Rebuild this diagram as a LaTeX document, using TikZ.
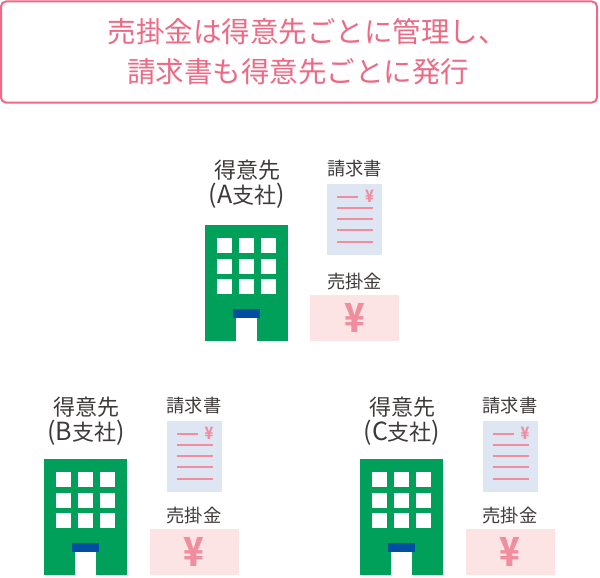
\documentclass[tikz,border=0pt]{standalone}
\usepackage{fontspec}
\setmainfont{Noto Sans CJK JP}
\definecolor{titlepink}{HTML}{EC6A85}
\definecolor{linepink}{HTML}{F08E9F}
\definecolor{txtgray}{HTML}{3E3A39}
\definecolor{bldgreen}{HTML}{00A05A}
\definecolor{doorblue}{HTML}{004EA2}
\definecolor{invblue}{HTML}{DFE6F3}
\definecolor{arpink}{HTML}{FBE4E3}
\newcommand{\subfont}{\fontsize{25}{25}\selectfont}
\tikzset{
  x=1pt,y=-1pt,
  titlebox/.style={draw=titlepink,line width=2pt,rounded corners=5pt,fill=white},
  titletext/.style={text=titlepink,font=\fontsize{28.5}{28.5}\selectfont,inner sep=0pt,anchor=center},
  bigtext/.style={text=txtgray,font=\fontsize{22}{22}\selectfont,inner sep=0pt,anchor=center},
  smalltext/.style={text=txtgray,font=\fontsize{18.3}{18.3}\selectfont,inner sep=0pt,anchor=center},
  yensmall/.style={text=linepink,font=\fontsize{17}{17}\selectfont\bfseries,inner sep=0pt,anchor=center,xscale=.85,transform shape},
  yenbig/.style={text=linepink,font=\fontsize{40}{40}\selectfont\bfseries,inner sep=0pt,anchor=center,xscale=.85,transform shape},
  rowline/.style={draw=linepink,line width=1.6pt},
}
% #1 dx, #2 dy, #3 suffix, #4 letter, #5 extra y of texts and invoice, #6 extra x of right column
\newcommand{\branch}[6]{%
\begin{scope}[shift={(#1,#2)}]
  \fill[bldgreen] (205,225) rectangle (288,341);
  \foreach \wx in {217,239,261}
    \foreach \wy in {238,259,279}
      \fill[white] (\wx,\wy) rectangle +(15,15);
  \fill[doorblue] (233,309) rectangle (260,318);
  \fill[white] (236,318) rectangle (257,341);
  \begin{scope}[shift={(0,#5)}]
    \node[bigtext] (name#3) at (247,170) {得意先};
    \node[bigtext] (sub#3) at (247,196) {{\subfont(#4}支社{\subfont)}};
  \end{scope}
  \begin{scope}[shift={(#6,0)}]
    \node[smalltext] (arlabel#3) at (354.5,281.4) {売掛金};
    \fill[arpink] (310,295) rectangle (399,341);
    \node[yenbig] (yenb#3) at (354.5,318) {¥};
    \begin{scope}[shift={(0,#5)}]
      \node[smalltext] (invlabel#3) at (354.5,168.6) {請求書};
      \fill[invblue] (327.3,184) rectangle (382,254.6);
      \draw[rowline] (337,197) -- (358,197);
      \foreach \ly in {208,219,230,242}
        \draw[rowline] (337,\ly) -- (373,\ly);
      \node[yensmall] (yens#3) at (369.5,196.5) {¥};
    \end{scope}
  \end{scope}
\end{scope}}
\begin{document}
\begin{tikzpicture}
\useasboundingbox (0,0) rectangle (600,578);
\node[titlebox,minimum width=596pt,minimum height=101pt,inner sep=0pt] (title) at (299,52) {};
\node[titletext] (t1) at (307,32) {売掛金は得意先ごとに管理し、};
\node[titletext] (t2) at (298,72) {請求書も得意先ごとに発行};
\branch{0}{0}{a}{A}{0}{0}
\branch{-161}{234}{b}{B}{3}{0.5}
\branch{155}{234}{c}{C}{3}{0.5}
\end{tikzpicture}
\end{document}
